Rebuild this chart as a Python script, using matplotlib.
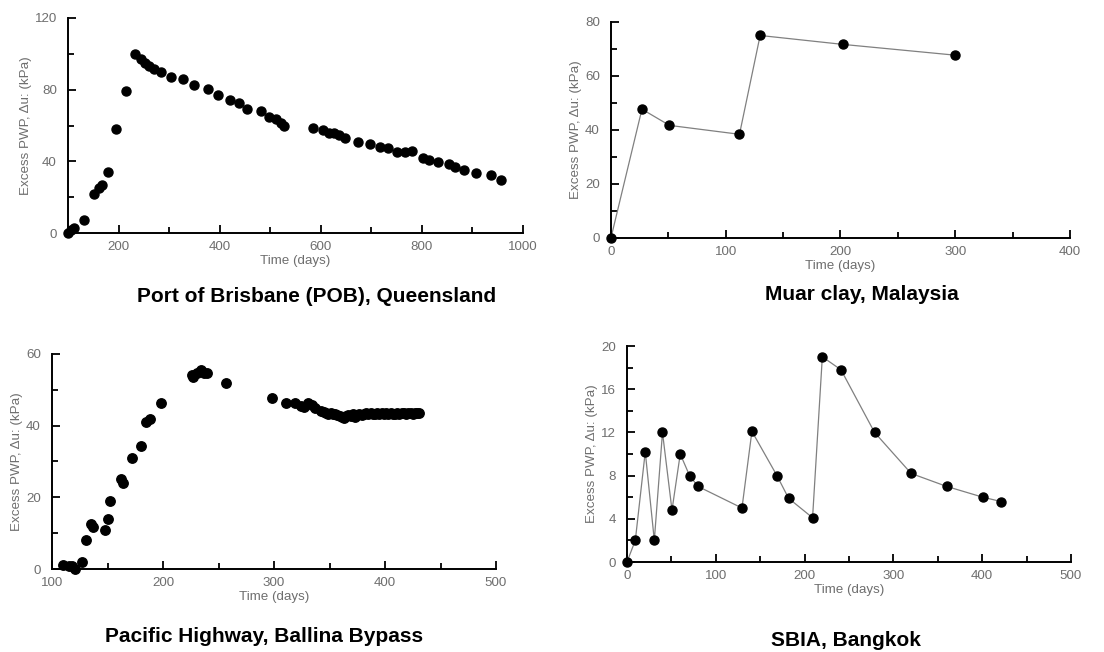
import matplotlib
matplotlib.use("Agg")
import matplotlib.pyplot as plt
from matplotlib.ticker import MultipleLocator

plt.rcParams['font.family'] = ['Liberation Sans', 'DejaVu Sans']

# --- Port of Brisbane (POB), Queensland ---
pob_t = [100, 106, 111, 132, 152, 161, 167, 179, 194, 214, 233, 244, 252, 261, 271,
         284, 304, 327, 349, 376, 396, 421, 439, 454, 481, 497, 511, 521, 527,
         585, 605, 616, 627, 637, 647, 674, 697, 717, 734, 751, 767, 780, 803,
         814, 831, 854, 865, 883, 907, 936, 956]
pob_u = [0, 1.7, 3, 7.3, 22, 25, 27, 34, 58, 79.5, 100, 97, 95, 93, 91.5,
         90, 87, 86, 82.6, 80.5, 77, 74, 72.5, 69, 68, 65, 63.5, 61.5, 59.7,
         58.4, 57.5, 56, 55.6, 54.7, 53, 50.7, 49.5, 48, 47.3, 45, 45, 45.5, 41.7,
         40.5, 39.6, 38.5, 37, 35, 33.7, 32.4, 29.6]

# --- Muar clay, Malaysia ---
muar_t = [0, 27, 51, 112, 130, 202, 300]
muar_u = [0, 47.7, 41.7, 38.4, 75, 71.7, 67.7]

# --- Pacific Highway, Ballina Bypass ---
bal_t = [110, 115, 118, 121, 127, 131, 135, 137, 148, 150, 152, 162, 164, 172, 180,
         185, 188, 198, 226, 227, 231, 234, 237, 240, 257, 298, 311, 319, 324, 327,
         331, 334, 337, 342,
         345, 347, 349, 351, 353, 355, 357, 359, 361, 363, 365, 367, 369, 371, 373,
         375, 377, 379, 381, 383, 385, 387, 389, 391, 393, 395, 397, 399, 401, 403,
         405, 407, 409, 411, 413, 415, 417, 419, 421, 423, 425, 427, 429, 431]
bal_u = [1.2, 0.9, 0.7, 0, 2, 8, 12.6, 11.7, 11, 14, 19, 25, 24, 31, 34.4,
         41, 41.8, 46.3, 54, 53.5, 54.6, 55.4, 54.8, 54.6, 51.8, 47.8, 46.3, 46.3, 45.5, 45.1,
         46.3, 45.8, 44.9, 44,
         43.8, 43.5, 43.3, 43.4, 43.2, 43.3, 43.0, 42.8, 42.5, 42.0, 42.6, 43.0, 42.8, 43.2, 42.4,
         43.0, 43.3, 43.1, 43.3, 43.4, 43.2, 43.4, 43.3, 43.2, 43.4, 43.3, 43.5, 43.3, 43.4, 43.2,
         43.5, 43.3, 43.2, 43.4, 43.3, 43.5, 43.4, 43.3, 43.5, 43.4, 43.3, 43.5, 43.4, 43.6]

# --- SBIA, Bangkok ---
sbia_t = [0, 9.4, 20.6, 30.8, 40, 50.7, 60, 70.5, 80, 129.5, 140.7, 168.9, 182, 209,
          220, 241, 278.8, 320, 360, 400.8, 421.4]
sbia_u = [0, 2, 10.2, 2, 12, 4.8, 10, 8, 7, 5, 12.1, 8, 5.9, 4.1,
          19, 17.8, 12, 8.2, 7, 6, 5.6]

YLABEL = "Excess PWP, \u0394u: (kPa)"
GREY = "#6e6e6e"


def style_axes(ax, xlim, ylim, xmaj, xmin, ymaj, ymin):
    ax.set_xlim(*xlim)
    ax.set_ylim(*ylim)
    ax.spines['top'].set_visible(False)
    ax.spines['right'].set_visible(False)
    ax.spines['left'].set_linewidth(1.4)
    ax.spines['bottom'].set_linewidth(1.4)
    ax.xaxis.set_major_locator(MultipleLocator(xmaj))
    ax.xaxis.set_minor_locator(MultipleLocator(xmin))
    ax.yaxis.set_major_locator(MultipleLocator(ymaj))
    ax.yaxis.set_minor_locator(MultipleLocator(ymin))
    ax.tick_params(which='major', direction='in', length=6, width=1.3,
                   labelsize=9.6, labelcolor=GREY)
    ax.tick_params(which='minor', direction='in', length=4, width=1.3)
    ax.tick_params(axis='x', pad=6)
    ax.tick_params(axis='y', pad=8)
    ax.set_xlabel("Time (days)", fontsize=9.6, color=GREY, labelpad=1)
    ax.set_ylabel(YLABEL, fontsize=9.6, color=GREY, labelpad=2)


fig = plt.figure(figsize=(11.04, 6.52), dpi=100)

ax1 = fig.add_axes([0.0616, 0.6426, 0.4121, 0.3298])
ax1.plot(pob_t, pob_u, 'o', color='black', ms=6.5, clip_on=False)
style_axes(ax1, (100, 1000), (0, 120), 200, 100, 40, 20)
ax1.set_xticks([200, 400, 600, 800, 1000])

ax2 = fig.add_axes([0.5534, 0.6350, 0.4158, 0.3313])
ax2.plot(muar_t, muar_u, '-', color='#808080', lw=0.9)
ax2.plot(muar_t, muar_u, 'o', color='black', ms=6.5, clip_on=False)
style_axes(ax2, (0, 400), (0, 80), 100, 50, 20, 10)

ax3 = fig.add_axes([0.0471, 0.1273, 0.4022, 0.3298])
ax3.plot(bal_t, bal_u, 'o', color='black', ms=6.8, clip_on=False)
style_axes(ax3, (100, 500), (0, 60), 100, 50, 20, 10)

ax4 = fig.add_axes([0.5679, 0.1380, 0.4022, 0.3313])
ax4.plot(sbia_t, sbia_u, '-', color='#808080', lw=0.9)
ax4.plot(sbia_t, sbia_u, 'o', color='black', ms=6.5, clip_on=False)
style_axes(ax4, (0, 500), (0, 20), 100, 50, 4, 2)

title_kw = dict(fontsize=15, fontweight='bold', ha='center', va='center')
fig.text(317 / 1104, 1 - 297 / 652, "Port of Brisbane (POB), Queensland", **title_kw)
fig.text(862 / 1104, 1 - 295 / 652, "Muar clay, Malaysia", **title_kw)
fig.text(264 / 1104, 1 - 636 / 652, "Pacific Highway, Ballina Bypass", **title_kw)
fig.text(846 / 1104, 1 - 640 / 652, "SBIA, Bangkok", **title_kw)

fig.savefig("out.png", dpi=100)
